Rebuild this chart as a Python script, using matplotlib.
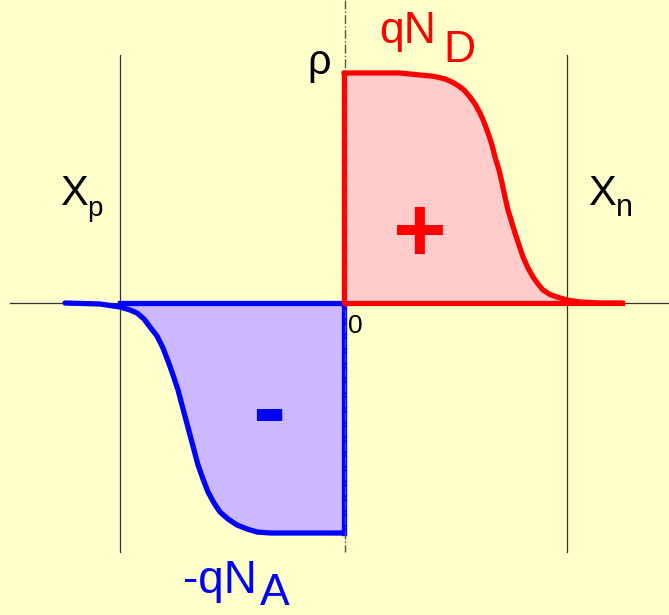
import numpy as np
import matplotlib.pyplot as plt

# charge density profile (x: position, 0 = junction; rho: charge)
x_n_side = [0, 56, 76, 91, 101, 108, 114, 120, 126, 131, 136, 140, 144, 148, 151, 155, 158,
            161, 164, 168, 171, 175, 179, 184, 189, 194, 199, 206, 213, 223, 236, 256, 278]
rho_n_side = [230, 230, 228, 226.5, 224, 221, 217.5, 213, 206, 199, 190, 181, 170, 158, 146, 133, 120,
              106, 93, 80, 70, 58, 46, 35, 26, 19, 13, 8.5, 6, 3, 1, 0, 0]
x_p_side = [-279, -244, -224, -214, -207, -200, -194, -187, -181, -176, -171, -166, -162, -158,
            -154, -150, -146, -141, -136, -130, -124, -116, -107, -97, -87, -74, -54, 0]
rho_p_side = [0, -1, -4, -7, -10, -16, -24, -33, -45, -58, -72, -87, -102, -117,
              -132, -147, -162, -176, -189, -200, -209, -216, -222, -226, -229, -230, -230, -230]
xp_edge = -224
xn_edge = 223

bg = "#ffffcc"
fig = plt.figure(figsize=(6.69, 6.15), dpi=100, facecolor=bg)
ax = fig.add_axes([0, 0, 1, 1])
ax.set_facecolor(bg)
ax.set_xlim(-344, 325)
ax.set_ylim(-312, 303)
ax.axis("off")
plt.rcParams["font.family"] = ["Liberation Sans", "DejaVu Sans"]

xn = np.array(x_n_side)
rn = np.array(rho_n_side)
xpp = np.array(x_p_side)
rp = np.array(rho_p_side)

# fills
ax.fill_between(xn, rn, 0, color="#ffcccc", lw=0)
ax.fill_between(xpp, rp, 0, color="#ccb8ff", lw=0)

# axes and depletion edges
ax.plot([-334, 325], [0, 0], color="#333333", lw=0.9)
ax.plot([xp_edge, xp_edge], [248, -249], color="#333333", lw=0.9)
ax.plot([xn_edge, xn_edge], [248, -249], color="#333333", lw=0.9)

# blue (acceptor) side
ax.plot(xpp, rp, color="#0000ff", lw=3.8, solid_capstyle="round", solid_joinstyle="round")
ax.plot([xp_edge, 0, 0], [0, 0, rp[-1]], color="#0000ff", lw=3.8)
# red (donor) side
ax.plot(xn, rn, color="#ff0000", lw=3.8, solid_capstyle="round", solid_joinstyle="round")
ax.plot([0, 0, xn[-1]], [rn[0], 0, 0], color="#ff0000", lw=3.8)

# junction dash-dot line
ax.plot([1, 1], [303, -249], color="#555555", lw=1, ls="-.")

# labels
ax.text(-37, 229, "ρ", fontsize=30, color="black", va="baseline")
ax.text(35, 260, "qN", fontsize=32, color="#ff0000", va="baseline")
ax.text(99, 241, "D", fontsize=32, color="#ff0000", va="baseline")
ax.text(-161, -290, "-qN", fontsize=33, color="#0000ff", va="baseline")
ax.text(-84, -302, "A", fontsize=32, color="#0000ff", va="baseline")
ax.text(-284, 98, "X", fontsize=30, color="black", va="baseline")
ax.text(-257, 87, "p", fontsize=20, color="black", va="baseline")
ax.text(244, 98, "X", fontsize=30, color="black", va="baseline")
ax.text(272, 87, "n", fontsize=22, color="black", va="baseline")
ax.text(4, -30, "0", fontsize=19, color="black", va="baseline")
ax.text(75, 42, "+", fontsize=66, fontweight="bold", color="#ff0000", ha="center", va="baseline")
ax.text(-75, -138, "-", fontsize=72, fontweight="bold", color="#0000ff", ha="center", va="baseline")

fig.savefig("out.png", dpi=100, facecolor=bg)
